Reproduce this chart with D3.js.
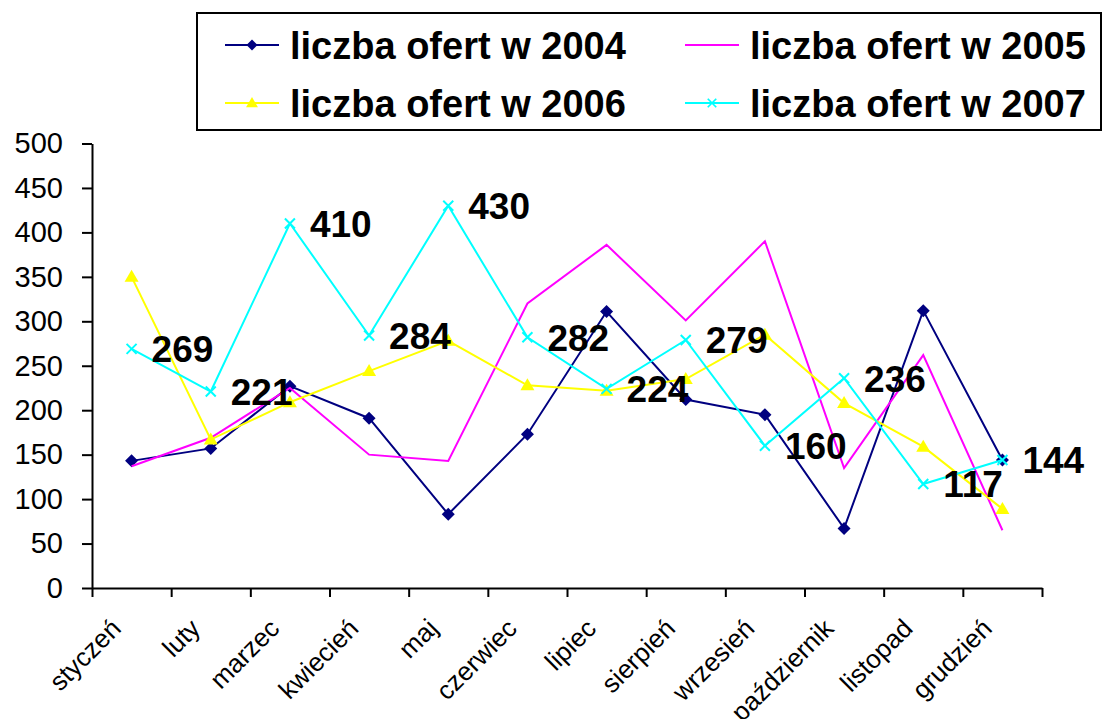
<!DOCTYPE html>
<html>
<head>
<meta charset="utf-8">
<script src="https://d3js.org/d3.v7.min.js"></script>
<style>
  body { margin: 0; background: #fff; }
  svg { display: block; font-family: "Liberation Sans", Arial, sans-serif; }
  .axis path, .axis line { stroke: #000; stroke-width: 2px; }
</style>
</head>
<body>
<svg id="chart" width="1106" height="719"></svg>
<script>
// months on the x axis
const months = ["styczeń", "luty", "marzec", "kwiecień", "maj", "czerwiec",
  "lipiec", "sierpień", "wrzesień", "październik", "listopad", "grudzień"];

// series values
const oferty2004 = [143, 157, 227, 191, 83, 173, 311, 212, 195, 67, 312, 144];
const oferty2005 = [137, 169, 225, 150, 143, 320, 386, 301, 390, 135, 262, 65];
const oferty2006 = [350, 167, 209, 244, 278, 228, 222, 235, 285, 208, 159, 89];
const oferty2007 = [269, 221, 410, 284, 430, 282, 224, 279, 160, 236, 117, 144];

const yTicks = [0, 50, 100, 150, 200, 250, 300, 350, 400, 450, 500];

const series = [
  { name: "liczba ofert w 2004", values: oferty2004, color: "#000080", marker: "diamond" },
  { name: "liczba ofert w 2005", values: oferty2005, color: "#ff00ff", marker: null },
  { name: "liczba ofert w 2006", values: oferty2006, color: "#ffff00", marker: "triangle" },
  { name: "liczba ofert w 2007", values: oferty2007, color: "#00ffff", marker: "cross" },
];

const svg = d3.select("#chart");
const plot = { left: 92, right: 1042, top: 143.5, bottom: 588 };

const x = d3.scaleBand().domain(months).range([plot.left, plot.right]).padding(0);
const xEdge = d3.scaleLinear().domain([0, months.length]).range([plot.left, plot.right]);
const y = d3.scaleLinear().domain([0, 500]).range([plot.bottom, plot.top]);
const cx = (m) => x(m) + x.bandwidth() / 2;

// y axis
svg.append("g")
  .attr("class", "axis")
  .attr("transform", `translate(${plot.left},0)`)
  .call(d3.axisLeft(y).tickValues(yTicks).tickSize(10).tickPadding(19).tickSizeOuter(0))
  .call((g) => g.selectAll("text")
    .attr("font-size", 29)
    .attr("font-family", "Liberation Sans, Arial, sans-serif")
    .attr("fill", "#000"));

// x axis: ticks at category edges
svg.append("g")
  .attr("class", "axis")
  .attr("transform", `translate(0,${plot.bottom})`)
  .call(d3.axisBottom(xEdge).ticks(months.length).tickSize(9).tickFormat("").tickSizeOuter(0));

// x labels
svg.append("g")
  .selectAll("text")
  .data(months)
  .enter()
  .append("text")
  .attr("transform", (m) => `translate(${cx(m) - 9},${plot.bottom + 42}) rotate(-45)`)
  .attr("text-anchor", "end")
  .attr("font-size", 26)
  .text((m) => m);

// markers
const markerPath = {
  diamond: "M0,-6.5L6.5,0L0,6.5L-6.5,0Z",
  triangle: "M0,-7L7,5L-7,5Z",
  cross: "M-5,-5L5,5M-5,5L5,-5",
};

const line = d3.line()
  .x((d) => cx(d.m))
  .y((d) => y(d.v));

series.forEach((s) => {
  const pts = s.values.map((v, i) => ({ m: months[i], v: v }));
  const g = svg.append("g").attr("class", "series");
  g.append("path")
    .datum(pts)
    .attr("fill", "none")
    .attr("stroke", s.color)
    .attr("stroke-width", 2)
    .attr("d", line);

  if (!s.marker) return;
  const isCross = s.marker === "cross";
  g.selectAll(".mk")
    .data(pts)
    .enter()
    .append("path")
    .attr("d", markerPath[s.marker])
    .attr("transform", (d) => `translate(${cx(d.m)},${y(d.v)})`)
    .attr("fill", isCross ? "none" : s.color)
    .attr("stroke", isCross ? s.color : "none")
    .attr("stroke-width", 2);
});

// data labels for 2007
svg.append("g")
  .selectAll("text")
  .data(oferty2007)
  .enter()
  .append("text")
  .attr("x", (v, i) => cx(months[i]) + 20)
  .attr("y", (v) => y(v))
  .attr("dy", "0.36em")
  .attr("font-size", 37)
  .attr("font-weight", "bold")
  .text((v) => v);

// legend
const legend = svg.append("g").attr("class", "legend");
legend.append("rect")
  .attr("x", 197).attr("y", 13)
  .attr("width", 904).attr("height", 117)
  .attr("fill", "#fff")
  .attr("stroke", "#000")
  .attr("stroke-width", 2);

const legendPos = [[225, 45], [685, 45], [225, 103], [685, 103]];
series.forEach((s, i) => {
  const [lx, ly] = legendPos[i];
  const item = legend.append("g").attr("transform", `translate(${lx},${ly})`);
  item.append("line")
    .attr("x1", 0).attr("x2", 54)
    .attr("stroke", s.color)
    .attr("stroke-width", 2);
  if (s.marker) {
    const isCross = s.marker === "cross";
    item.append("path")
      .attr("d", markerPath[s.marker])
      .attr("transform", "translate(27,0) scale(0.85)")
      .attr("fill", isCross ? "none" : s.color)
      .attr("stroke", isCross ? s.color : "none")
      .attr("stroke-width", 2);
  }
  item.append("text")
    .attr("x", 65)
    .attr("dy", "0.36em")
    .attr("font-size", 38)
    .attr("font-weight", "bold")
    .text(s.name);
});
</script>
</body>
</html>
